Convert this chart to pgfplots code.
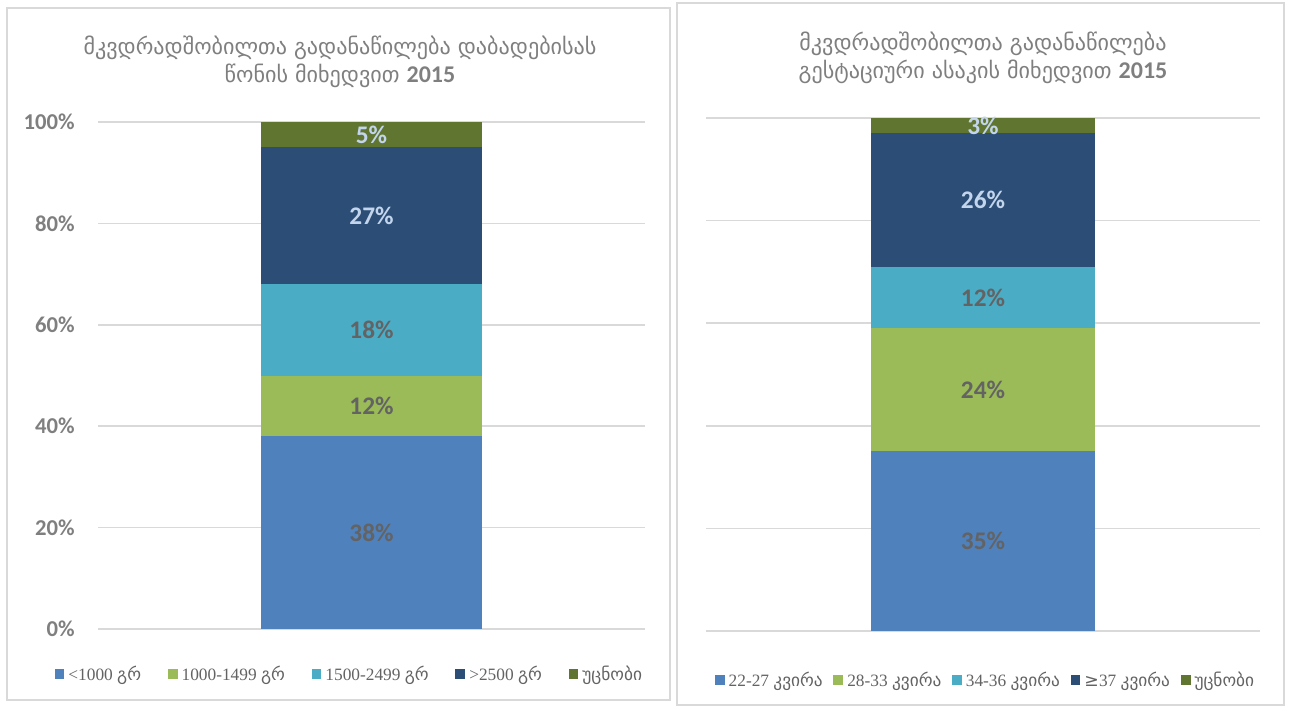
\documentclass[border=0pt]{standalone}
\usepackage{fontspec}
\setmainfont{Carlito}
\newfontfamily\geo{DejaVu Sans}
\newfontfamily\lser{Liberation Serif}
\usepackage{pgfplots}
\pgfplotsset{compat=1.18}

\definecolor{cBlue}{HTML}{4F81BD}
\definecolor{cGreen}{HTML}{9BBB59}
\definecolor{cCyan}{HTML}{4BACC6}
\definecolor{cNavy}{HTML}{2C4D75}
\definecolor{cOlive}{HTML}{5F7530}
\definecolor{cGrid}{HTML}{D9D9D9}
\definecolor{cTick}{HTML}{7F7F7F}
\definecolor{cLab}{HTML}{636363}
\definecolor{cLight}{HTML}{C3D5EC}

\pgfplotsset{
  panel/.style={
    scale only axis, xmin=0, xmax=1, ymin=0, ymax=100,
    axis line style={draw=none}, xtick=\empty,
    ytick={0,20,40,60,80,100}, major tick length=0pt,
    ymajorgrids, grid style={cGrid, line width=1.1pt},
    /pgf/number format/assume math mode=true,
  },
  bars/.style={panel, ybar stacked, bar width=0.404,
    legend columns=5,
    legend style={draw=none, fill=none, font=\lser\fontsize{13}{15}\selectfont,
      text=cLab, /tikz/every odd column/.append style={column sep=1pt}},
    legend image code/.code={\fill[##1] (0pt,-3.7pt) rectangle (7.4pt,3.7pt);},
  },
  labs/.style={panel, yticklabels={}, ymajorgrids=false,
    nodes near coords, point meta=explicit symbolic},
  lab/.style={draw=none, mark=none, nodes near coords,
    every node near coord/.append style={anchor=center,
      font=\bfseries\fontsize{19}{21}\selectfont, text=#1}},
}

\begin{document}
\begin{tikzpicture}[x=0.75pt, y=0.75pt]
\path (0,0) rectangle (1289,708);
\draw[cGrid, line width=1.1pt] (7,8) rectangle (670,700);
\draw[cGrid, line width=1.1pt] (677,3) rectangle (1284,705);

% left panel: birth weight
\node[align=center, text=cTick, font=\geo\fontsize{16.6}{21}\selectfont] at (340,646)
  {მკვდრადშობილთა გადანაწილება დაბადებისას\\წონის მიხედვით {\rmfamily\bfseries\fontsize{18}{21}\selectfont 2015}};
\begin{axis}[bars, at={(73.5pt,59.25pt)}, anchor=south west, width=410.25pt, height=380.25pt,
  yticklabel={\pgfmathprintnumber{\tick}\%},
  yticklabel style={text=cTick, font=\bfseries\fontsize{17}{20}\selectfont, xshift=-14pt},
  legend style={at={(0.46,-0.089)}, anchor=center,
    /tikz/every even column/.append style={column sep=18pt}}]
\addplot[fill=cBlue, draw=none] coordinates {(0.5,38)};
\addplot[fill=cGreen, draw=none] coordinates {(0.5,12)};
\addplot[fill=cCyan, draw=none] coordinates {(0.5,18)};
\addplot[fill=cNavy, draw=none] coordinates {(0.5,27)};
\addplot[fill=cOlive, draw=none] coordinates {(0.5,5)};
\legend{<1000 {\geo გრ}, 1000-1499 {\geo გრ}, 1500-2499 {\geo გრ}, >2500 {\geo გრ}, {\geo უცნობი}}
\end{axis}
\begin{axis}[labs, at={(73.5pt,59.25pt)}, anchor=south west, width=410.25pt, height=380.25pt]
\addplot[lab=cLab] coordinates {(0.5,19)[38\%] (0.5,44)[12\%] (0.5,59)[18\%]};
\addplot[lab=cLight] coordinates {(0.5,81.5)[27\%] (0.5,97.5)[5\%]};
\end{axis}

% right panel: gestational age
\node[align=center, text=cTick, font=\geo\fontsize{16.6}{21}\selectfont] at (983,650)
  {მკვდრადშობილთა გადანაწილება\\გესტაციური ასაკის მიხედვით {\rmfamily\bfseries\fontsize{18}{21}\selectfont 2015}};
\begin{axis}[bars, at={(529.5pt,57.75pt)}, anchor=south west, width=415.5pt, height=384.75pt,
  yticklabels={},
  legend style={at={(0.505,-0.0955)}, anchor=center,
    /tikz/every even column/.append style={column sep=6pt}}]
\addplot[fill=cBlue, draw=none] coordinates {(0.5,35)};
\addplot[fill=cGreen, draw=none] coordinates {(0.5,24)};
\addplot[fill=cCyan, draw=none] coordinates {(0.5,12)};
\addplot[fill=cNavy, draw=none] coordinates {(0.5,26)};
\addplot[fill=cOlive, draw=none] coordinates {(0.5,3)};
\legend{22-27 {\geo კვირა}, 28-33 {\geo კვირა}, 34-36 {\geo კვირა}, {\geo ≥}37 {\geo კვირა}, {\geo უცნობი}}
\end{axis}
\begin{axis}[labs, at={(529.5pt,57.75pt)}, anchor=south west, width=415.5pt, height=384.75pt]
\addplot[lab=cLab] coordinates {(0.5,17.5)[35\%] (0.5,47)[24\%] (0.5,65)[12\%]};
\addplot[lab=cLight] coordinates {(0.5,84)[26\%] (0.5,98.5)[3\%]};
\end{axis}
\end{tikzpicture}
\end{document}
